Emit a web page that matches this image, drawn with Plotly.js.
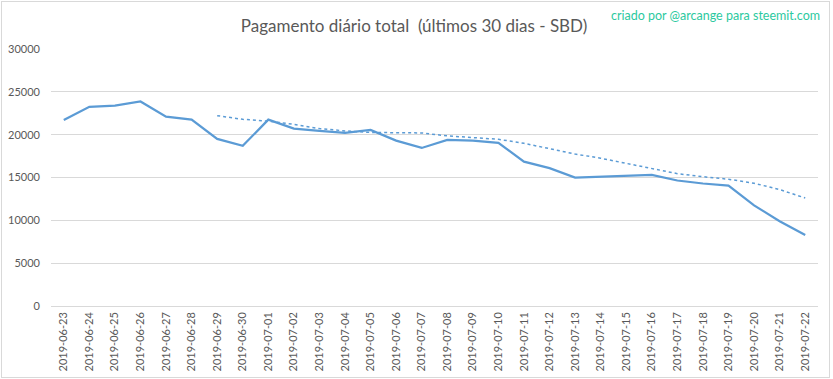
<!DOCTYPE html>
<html>
<head>
<meta charset="utf-8">
<script src="https://cdn.plot.ly/plotly-3.0.1.min.js"></script>
<style>
html,body{margin:0;padding:0;background:#fff;}
#frame{position:absolute;left:1px;top:1px;width:829px;height:377px;border:1px solid #d9d9d9;box-sizing:border-box;pointer-events:none;z-index:10;}
#chart{position:absolute;left:0;top:0;width:833px;height:379px;}
</style>
</head>
<body>
<div id="chart"></div>
<div id="frame"></div>
<script>
const dates = ["2019-06-23","2019-06-24","2019-06-25","2019-06-26","2019-06-27","2019-06-28","2019-06-29","2019-06-30",
"2019-07-01","2019-07-02","2019-07-03","2019-07-04","2019-07-05","2019-07-06","2019-07-07","2019-07-08","2019-07-09",
"2019-07-10","2019-07-11","2019-07-12","2019-07-13","2019-07-14","2019-07-15","2019-07-16","2019-07-17","2019-07-18",
"2019-07-19","2019-07-20","2019-07-21","2019-07-22"];
const payout = [21700,23250,23400,23880,22100,21750,19500,18700,21750,20700,20450,20200,20550,19300,18450,19400,19300,
19050,16850,16100,15000,15080,15200,15300,14650,14300,14050,11750,9900,8300];
const movingAvg = [null,null,null,null,null,null,22220,21790,21580,21200,20710,20440,20260,20240,20200,19860,19660,
19460,18990,18350,17740,17250,16650,16080,15450,15090,14800,14330,13590,12610];
const yTicks = [0,5000,10000,15000,20000,25000,30000];

const blue = "#5b9bd5";
const font = "Lato, 'Open Sans', sans-serif";

const traces = [
  {x: dates, y: payout, type: "scatter", mode: "lines", line: {color: blue, width: 2.25}, hoverinfo: "skip"},
  {x: dates, y: movingAvg, type: "scatter", mode: "lines", line: {color: blue, width: 1.5, dash: "dot"}, connectgaps: false, hoverinfo: "skip"}
];

const layout = {
  width: 833, height: 379,
  margin: {l: 51, r: 15, t: 49, b: 73},
  paper_bgcolor: "#fff", plot_bgcolor: "#fff",
  showlegend: false,
  font: {family: font, color: "#595959"},
  title: {text: "Pagamento diário total  (últimos 30 dias - SBD)", font: {family: font, size: 17, color: "#595959"},
          x: 0.497, xanchor: "center", y: 0.93, yanchor: "middle"},
  xaxis: {type: "category", range: [-0.5, 29.5], tickangle: -90, showgrid: false, zeroline: false,
          showline: false, ticks: "", ticklabelstandoff: 3, tickfont: {size: 11, color: "#595959"}, fixedrange: true},
  yaxis: {range: [0, 30000], tickvals: yTicks, ticktext: yTicks.map(String), showgrid: true, gridcolor: "#d9d9d9", gridwidth: 1,
          zeroline: true, zerolinecolor: "#d9d9d9", zerolinewidth: 1, showline: false, ticks: "", ticklabelstandoff: 10,
          tickfont: {size: 11, color: "#595959"}, fixedrange: true},
  annotations: [{text: "criado por @arcange para steemit.com", xref: "paper", yref: "paper", x: 1.005, y: 1.0,
                 xanchor: "right", yanchor: "middle", yshift: 34, showarrow: false,
                 font: {family: font, size: 12.5, color: "#2cc9a0"}}]
};

Plotly.newPlot("chart", traces, layout, {displayModeBar: false, staticPlot: true});
</script>
</body>
</html>
